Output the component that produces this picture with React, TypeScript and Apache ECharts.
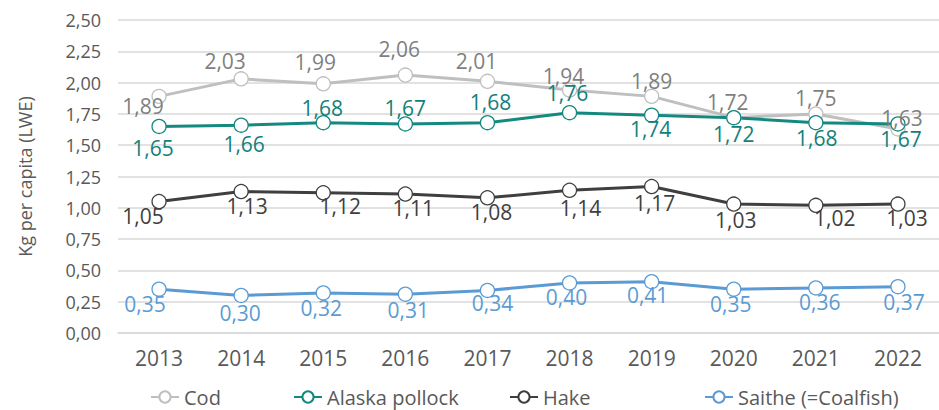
import React, { useEffect, useRef } from "react";
import * as echarts from "echarts";

const years = ["2013", "2014", "2015", "2016", "2017", "2018", "2019", "2020", "2021", "2022"];
const cod = [1.89, 2.03, 1.99, 2.06, 2.01, 1.94, 1.89, 1.72, 1.75, 1.63];
const alaskaPollock = [1.65, 1.66, 1.68, 1.67, 1.68, 1.76, 1.74, 1.72, 1.68, 1.67];
const hake = [1.05, 1.13, 1.12, 1.11, 1.08, 1.14, 1.17, 1.03, 1.02, 1.03];
const saithe = [0.35, 0.3, 0.32, 0.31, 0.34, 0.4, 0.41, 0.35, 0.36, 0.37];

// label offsets (label centre relative to marker centre)
const codOffsets = [[-16, 10], [-16, -18], [-8, -22], [-6, -26], [-11, -20], [-6, -14], [0, -15], [-6, -16], [0, -16], [4, -11]];
const pollockOffsets = [[-6, 22], [3, 19], [-1, -15], [0, -16], [3, -21], [-2, -20], [-1, 14], [0, 16], [1, 15], [3, 15]];
const hakeOffsets = [[-16, 14], [6, 14], [17, 13], [8, 14], [4, 14], [11, 18], [3, 16], [2, 16], [19, 13], [9, 14]];
const saitheOffsets = [[-14, 15], [-1, 18], [-2, 15], [3, 16], [5, 13], [-3, 14], [-4, 13], [-3, 15], [4, 14], [6, 15]];

const FONT = "Open Sans";
const fmt = (v: number) => v.toFixed(2).replace(".", ",");

function makeSeries(name: string, values: number[], offsets: number[][], color: string, labelColor: string) {
  return {
    name,
    type: "line",
    data: values.map((v, i) => ({ value: v, label: { offset: offsets[i] } })),
    symbol: "circle",
    symbolSize: 14,
    lineStyle: { color, width: 3 },
    itemStyle: { color: "#ffffff", borderColor: color, borderWidth: 1.3 },
    label: {
      show: true,
      position: "inside",
      fontFamily: FONT,
      fontSize: 21,
      color: labelColor,
      formatter: (p: any) => fmt(p.value),
    },
    emphasis: { disabled: true },
  };
}

export default function App() {
  const ref = useRef<HTMLDivElement>(null);
  useEffect(() => {
    if (!ref.current) return;
    const chart = echarts.init(ref.current, null, { renderer: "svg" });
    const legendBase = {
      top: 387,
      padding: 0,
      itemWidth: 28,
      itemHeight: 14,
      itemGap: 4,
      textStyle: { fontFamily: FONT, fontSize: 20, color: "#595959" },
    };
    chart.setOption({
      animation: false,
      backgroundColor: "#ffffff",
      grid: { left: 118, right: -4, top: 20, bottom: 77 },
      legend: [
        { ...legendBase, left: 150, data: ["Cod"] },
        { ...legendBase, left: 293, data: ["Alaska pollock"] },
        { ...legendBase, left: 509, data: ["Hake"] },
        { ...legendBase, left: 704, data: ["Saithe (=Coalfish)"] },
      ],
      xAxis: {
        type: "category",
        data: years,
        boundaryGap: true,
        axisLine: { show: true, lineStyle: { color: "#d9d9d9", width: 1.5 } },
        axisTick: { show: false },
        axisLabel: { fontFamily: FONT, fontSize: 21, color: "#595959", margin: 14 },
      },
      yAxis: {
        type: "value",
        min: 0,
        max: 2.5,
        interval: 0.25,
        name: "Kg per capita (LWE)",
        nameLocation: "middle",
        nameGap: 84,
        nameRotate: 90,
        nameTextStyle: { fontFamily: FONT, fontSize: 18, color: "#595959" },
        axisLine: { show: false },
        axisTick: { show: false },
        splitLine: { lineStyle: { color: "#d9d9d9", width: 1.5 } },
        axisLabel: { fontFamily: FONT, fontSize: 18, color: "#595959", margin: 17, formatter: (v: number) => fmt(v) },
      },
      series: [
        makeSeries("Cod", cod, codOffsets, "#bfbfbf", "#7f7f7f"),
        makeSeries("Alaska pollock", alaskaPollock, pollockOffsets, "#14897f", "#14807a"),
        makeSeries("Hake", hake, hakeOffsets, "#3f3f3f", "#3f3f3f"),
        makeSeries("Saithe (=Coalfish)", saithe, saitheOffsets, "#5b9bd5", "#5b9bd5"),
      ],
    });
    return () => chart.dispose();
  }, []);
  return <div ref={ref} style={{ position: "fixed", left: 0, top: 0, width: 939, height: 410 }} />;
}
